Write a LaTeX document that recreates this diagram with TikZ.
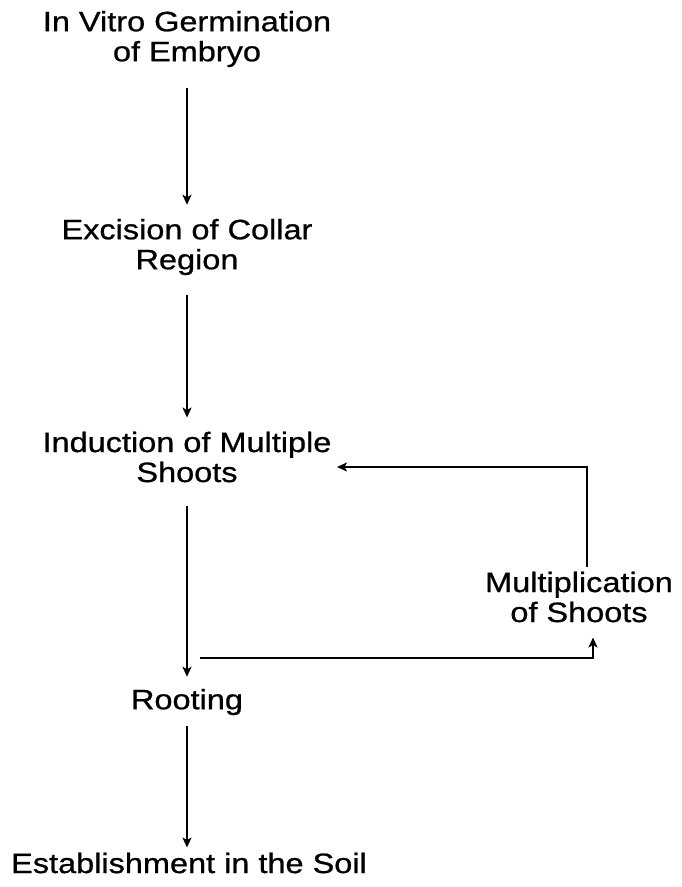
\documentclass[tikz,border=0pt]{standalone}
\usepackage{fontspec}
\setmainfont{Liberation Sans}[FakeStretch=1.16,FakeBold=0.8]
\usetikzlibrary{arrows.meta}

\begin{document}
\begin{tikzpicture}[x=1pt,y=1pt,
  stage/.style={inner sep=0pt,align=center,font=\fontsize{28}{30}\selectfont},
  flow/.style={line width=2.4pt,-{Stealth[length=10pt,width=9pt,inset=2.5pt]}}]
 \fill[white] (0,0) rectangle (681,-887);
 % main column of steps
 \node[stage] (germ)   at (187,-39)  {In Vitro Germination\\of Embryo};
 \node[stage] (excis)  at (187,-247) {Excision of Collar\\Region};
 \node[stage] (induct) at (187,-457) {Induction of Multiple\\Shoots};
 \node[stage] (root)   at (187,-702) {Rooting};
 \node[stage] (estab)  at (189,-863) {Establishment in the Soil};
 % side step of the loop
 \node[stage] (multi)  at (579,-597) {Multiplication\\of Shoots};
 \foreach \from/\to/\a/\b in {germ/excis/21/14,excis/induct/20/14,induct/root/24/12,root/estab/11/5}
   \draw[flow,shorten <=\a pt,shorten >=\b pt] (\from.south) -- (\from.south |- \to.north);
 % loop back to the shoots
 \coordinate (split) at (200,-658);
 \coordinate (back) at (337,-467);
 \draw[flow,shorten >=15pt] (split) -| ([xshift=14pt]multi.south);
 \draw[flow,shorten <=5pt] ([xshift=8pt]multi.north) |- (back);
\end{tikzpicture}
\end{document}
